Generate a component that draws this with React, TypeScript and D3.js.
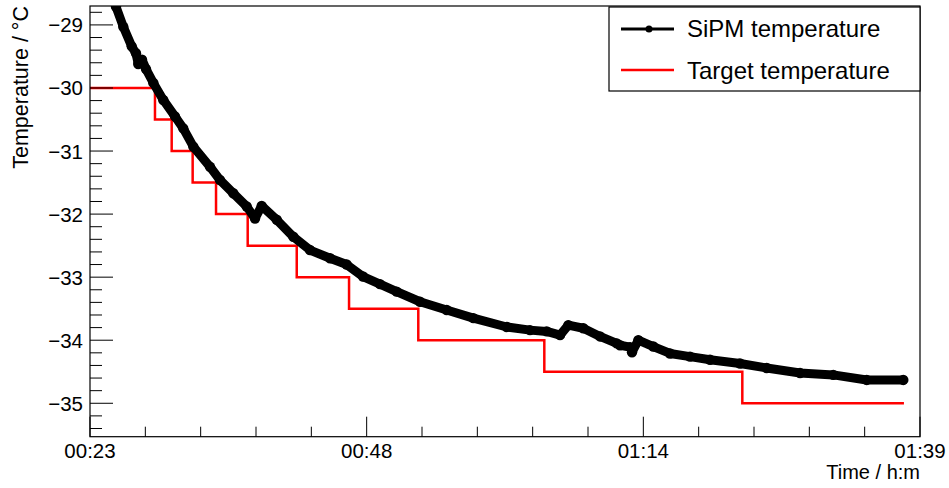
import React from "react";
import * as d3 from "d3";

// SiPM temperature readings (time in minutes after midnight, temperature in °C)
const sipmTime = [
  25.55, 25.88, 26.55, 27.32, 27.71, 27.92, 28.26, 28.63, 29.3, 30.21, 31.28, 32.04,
  32.96, 34.49, 35.4, 36.62, 37.85, 38.61, 39.22, 40.6, 42.12, 43.64, 45.48, 47.0,
  48.5, 50.05, 51.58, 53.72, 56.16, 58.6, 61.66, 63.79, 65.32, 66.54, 67.3, 68.67,
  70.2, 71.73, 72.03, 72.95, 73.13, 73.71, 75.08, 76.61, 78.44, 80.27, 83.02, 85.46,
  88.52, 91.56, 94.62, 97.97,
];
const sipmTemp = [
  -28.45, -28.71, -29.03, -29.34, -29.45, -29.62, -29.55, -29.7, -29.92, -30.19, -30.45, -30.64,
  -30.93, -31.25, -31.46, -31.67, -31.88, -32.07, -31.87, -32.09, -32.36, -32.57, -32.7, -32.8,
  -32.99, -33.11, -33.23, -33.39, -33.52, -33.65, -33.79, -33.84, -33.86, -33.92, -33.76, -33.81,
  -33.94, -34.05, -34.08, -34.11, -34.19, -34.0, -34.1, -34.21, -34.26, -34.31, -34.37, -34.44,
  -34.52, -34.55, -34.63, -34.63,
];

// Target temperature set points (step starts) and the end time of the last step
const targetTime = [23.5, 29.45, 30.98, 32.9, 35.04, 37.94, 42.43, 47.22, 53.56, 65.1, 83.23];
const targetTemp = [-30, -30.5, -31, -31.5, -32, -32.5, -33, -33.5, -34, -34.5, -35];
const targetEnd = 98.03;

const xDomain = [23.5, 99.5];
const yDomain = [-35.53, -28.7];
const xTickLabels = ["00:23", "00:48", "01:14", "01:39"];
const yTickValues = [-35, -34, -33, -32, -31, -30, -29];
const legendLabels = ["SiPM temperature", "Target temperature"];

const W = 949;
const H = 488;
const L = 90;
const R = 920;
const T = 6;
const B = 436.7;
const FONT = "'Liberation Sans', Arial, Helvetica, sans-serif";

export default function App() {
  const x = d3.scaleLinear().domain(xDomain).range([L, R]);
  const y = d3.scaleLinear().domain(yDomain).range([B, T]);

  const sipm = sipmTime.map((t, i) => [t, sipmTemp[i]] as [number, number]);
  const target = targetTime.map((t, i) => [t, targetTemp[i]] as [number, number]);
  target.push([targetEnd, targetTemp[targetTemp.length - 1]]);

  const sipmLine = d3
    .line<[number, number]>()
    .x((d) => x(d[0]))
    .y((d) => y(d[1]))
    .curve(d3.curveLinear);
  const stepLine = d3
    .line<[number, number]>()
    .x((d) => x(d[0]))
    .y((d) => y(d[1]))
    .curve(d3.curveStepAfter);

  const majorStep = (xDomain[1] - xDomain[0]) / 3;
  const xMajor = d3.range(4).map((i) => xDomain[0] + i * majorStep);
  const xMinor = d3
    .range(16)
    .map((i) => xDomain[0] + (i * majorStep) / 5)
    .filter((_, i) => i % 5 !== 0);

  const yMinor: number[] = [];
  for (let v = -35.4; v <= -28.7; v += 0.2) {
    const r = Math.round(v * 10) / 10;
    if (Math.abs(r - Math.round(r)) > 1e-6 && r >= yDomain[0] && r <= yDomain[1]) yMinor.push(r);
  }

  const fmt = (v: number) => (v < 0 ? "\u2212" + Math.abs(v) : String(v));

  return (
    <svg
      width={W}
      height={H}
      style={{ position: "absolute", left: 0, top: 0, background: "#fff" }}
      fontFamily={FONT}
    >
      <defs>
        <clipPath id="plotclip">
          <rect x={L} y={T} width={R - L} height={B - T} />
        </clipPath>
      </defs>
      <rect x={0} y={0} width={W} height={H} fill="#fff" />

      <g clipPath="url(#plotclip)">
        <path d={stepLine(target) || ""} fill="none" stroke="#ff0000" strokeWidth={2.5} />
        <path
          d={sipmLine(sipm) || ""}
          fill="none"
          stroke="#000"
          strokeWidth={9}
          strokeLinejoin="round"
          strokeLinecap="round"
        />
        {sipm.map((d, i) => (
          <circle key={i} cx={x(d[0])} cy={y(d[1])} r={5.2} fill="#000" />
        ))}
      </g>

      {/* frame */}
      <rect x={L} y={T} width={R - L} height={B - T} fill="none" stroke="#000" strokeWidth={1.2} />

      {/* x ticks */}
      {xMajor.map((t, i) => (
        <g key={"xm" + i}>
          <line x1={x(t)} x2={x(t)} y1={B} y2={B - 20} stroke="#000" strokeWidth={1} />
          <text x={x(t)} y={458} textAnchor="middle" fontSize={20.5} fill="#000">
            {xTickLabels[i]}
          </text>
        </g>
      ))}
      {xMinor.map((t, i) => (
        <line key={"xn" + i} x1={x(t)} x2={x(t)} y1={B} y2={B - 10} stroke="#000" strokeWidth={1} />
      ))}

      {/* y ticks */}
      {yTickValues.map((v) => (
        <g key={"ym" + v}>
          <line x1={L} x2={L + 23} y1={y(v)} y2={y(v)} stroke="#000" strokeWidth={1} />
          <text x={83} y={y(v) + 7.5} textAnchor="end" fontSize={20.5} fill="#000">
            {fmt(v)}
          </text>
        </g>
      ))}
      {yMinor.map((v) => (
        <line key={"yn" + v} x1={L} x2={L + 12} y1={y(v)} y2={y(v)} stroke="#000" strokeWidth={1} />
      ))}

      {/* axis titles */}
      <text x={R} y={479} textAnchor="end" fontSize={20} fill="#000">
        Time / h:m
      </text>
      <text transform={`translate(28,${T}) rotate(-90)`} textAnchor="end" fontSize={21.5} fill="#000">
        Temperature / °C
      </text>

      {/* legend */}
      <rect x={609} y={7} width={311} height={84} fill="#fff" stroke="#000" strokeWidth={1.2} />
      <line x1={621} x2={674} y1={29} y2={29} stroke="#000" strokeWidth={3} />
      <circle cx={649} cy={29} r={3.5} fill="#000" />
      <text x={687} y={37} fontSize={24} fill="#000">
        {legendLabels[0]}
      </text>
      <line x1={621} x2={674} y1={70} y2={70} stroke="#ff0000" strokeWidth={2.5} />
      <text x={687} y={78.5} fontSize={24} fill="#000">
        {legendLabels[1]}
      </text>
    </svg>
  );
}
